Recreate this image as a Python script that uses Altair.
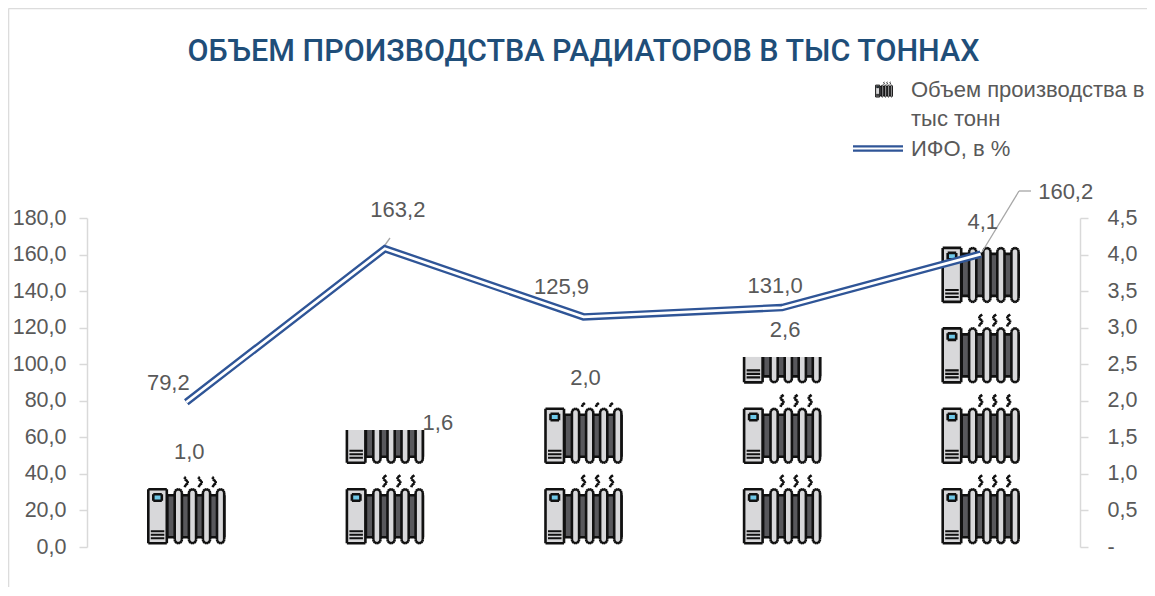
import math
import altair as alt
import pandas as pd

# ---- chart values -------------------------------------------------
categories = ["1", "2", "3", "4", "5"]
production = [0.96, 1.6, 1.97, 2.6, 4.1]      # тыс тонн (right axis)
ifo = [79.2, 163.2, 125.9, 131.0, 160.2]      # % (left axis)
units_per_icon = 1.1

# ---- label offsets (px) -------------------------------------------
prod_dx = [3, 53, 2, 3, 2]
prod_dy = [-25, -7, -25, -27, -25]
ifo_dx = [-18, 13, -22, -7, 85]
ifo_dy = [-19, -39, -30, -22, -62]

W, H = 993, 329
PAD_L, PAD_T = 79, 210
RIGHT_MAX = 4.5
LEFT_MAX = 180
PX_PER_UNIT = H / RIGHT_MAX

TXT = "#595959"
AX = "#d9d9d9"
BLUE = "#2f5597"
DARK = "#58585c"
LIGHT = "#d8d8da"
SCREEN = "#6fc8e8"
INK = "#111111"


def capsule(cx, hw, top, bot):
    pts = []
    for a in range(180, 361, 30):
        r = math.radians(a)
        pts.append((cx + hw * math.cos(r), top + hw + hw * math.sin(r)))
    for a in range(0, 181, 30):
        r = math.radians(a)
        pts.append((cx + hw * math.cos(r), bot - hw + hw * math.sin(r)))
    return pts


def box(x0, y0, x1, y1):
    return [(x0, y0), (x1, y0), (x1, y1), (x0, y1)]


def clip_poly(pts, c):
    out = []
    for i, p in enumerate(pts):
        q = pts[(i + 1) % len(pts)]
        if p[1] >= c:
            out.append(p)
        if (p[1] >= c) != (q[1] >= c):
            t = (c - p[1]) / (q[1] - p[1])
            out.append((p[0] + t * (q[0] - p[0]), c))
    return out


def clip_seg(pts, c, closed=True):
    segs = []
    n = len(pts) if closed else len(pts) - 1
    for i in range(n):
        p, q = pts[i], pts[(i + 1) % len(pts)]
        if p[1] < c and q[1] < c:
            continue
        if p[1] < c or q[1] < c:
            t = (c - p[1]) / (q[1] - p[1])
            m = (p[0] + t * (q[0] - p[0]), c)
            p, q = (m, q) if p[1] < c else (p, m)
        segs.append((p, q))
    return segs


def f(v):
    return f"{v:.2f}"


def fill_path(polys, c, s):
    d = ""
    for poly in polys:
        pts = clip_poly(poly, c)
        if len(pts) > 2:
            d += "M" + " L".join(f"{f(x*s)} {f(y*s)}" for x, y in pts) + " Z "
    return d.strip()


def line_path(polys, c, s, closed=True):
    d = ""
    for poly in polys:
        for p, q in clip_seg(poly, c, closed):
            d += f"M{f(p[0]*s)} {f(p[1]*s)} L{f(q[0]*s)} {f(q[1]*s)} "
    return d.strip()


FIN_X = [-8, 6.2, 20.2, 34.3]
WAVE_X = [0, 14, 28]
TOP, BOT = -17.6, 36.4


def wave(x):
    ys = [-31.5, -29.5, -27.5, -25.5, -23.5, -21.5, -19.5]
    xs = [1.5, -1.2, -1.5, 1.2, 1.5, -1.0, -1.5]
    return [(x + a, y) for a, y in zip(xs, ys)]


def icon_rows(c=-1e6, s=1.0, sw=2.6):
    rows = []

    def add(d, fill, stroke, w):
        if d:
            rows.append({"path": d, "fill": fill, "stroke": stroke, "sw": w})

    dark = [box(-19, TOP + 6, 38, BOT - 6)]
    fins = [capsule(x, 3.6, TOP, BOT) for x in FIN_X]
    panel = [box(-38, TOP, -19.5, BOT)]
    scr = [box(-33, TOP + 5, -24.5, TOP + 11.5)]
    vents = [[(-35.5, y), (-22, y)] for y in (BOT - 12, BOT - 8.5, BOT - 5)]
    waves = [wave(x) for x in WAVE_X]
    for polys, col in ((dark, DARK), (fins, LIGHT), (panel, LIGHT), (scr, SCREEN)):
        add(fill_path(polys, c, s), col, "transparent", 0)
        add(line_path(polys, c, s), "transparent", INK, sw)
    add(line_path(vents, c, s, False), "transparent", INK, sw * 0.8)
    add(line_path(waves, c, s, False), "transparent", INK, sw)
    return rows


# ---- build icon table from the values ------------------------------
icon_records = []
for cat, v in zip(categories, production):
    k = 0
    while k * units_per_icon < v:
        centre = (k + 0.5) * units_per_icon
        clip_px = (centre - v) * PX_PER_UNIT
        for j, r in enumerate(icon_rows(c=clip_px)):
            icon_records.append({"cat": cat, "pos": centre, **r})
        k += 1
icons_df = pd.DataFrame(icon_records)

base = pd.DataFrame({
    "cat": categories,
    "prod": production,
    "ifo": ifo,
    "prod_label": [f"{v:.1f}".replace(".", ",") for v in production],
    "ifo_label": [f"{v:.1f}".replace(".", ",") for v in ifo],
    "pdx": prod_dx, "pdy": prod_dy, "idx": ifo_dx, "idy": ifo_dy,
})

x_enc = alt.X("cat:N", sort=categories,
              scale=alt.Scale(type="point", padding=0.5, domain=categories), axis=None)


def yleft(field, axis=None):
    return alt.Y(field, scale=alt.Scale(domain=[0, LEFT_MAX], nice=False), axis=axis)


def yright(field, axis=None):
    return alt.Y(field, scale=alt.Scale(domain=[0, RIGHT_MAX], nice=False), axis=axis)


left_axis = alt.Axis(orient="left", values=list(range(0, 181, 20)), title=None, grid=False,
                     labelExpr="replace(format(datum.value,'.1f'),'.',',')",
                     labelFont="Liberation Sans", labelFontSize=21.5, labelColor=TXT, labelPadding=13,
                     tickColor=AX, domainColor=AX, tickSize=8, tickWidth=1.5, domainWidth=1.5)
right_axis = alt.Axis(orient="right", values=[i * 0.5 for i in range(10)], title=None, grid=False,
                      labelExpr="datum.value==0?'-':replace(format(datum.value,'.1f'),'.',',')",
                      labelFont="Liberation Sans", labelFontSize=21.5, labelColor=TXT, labelPadding=19,
                      tickColor=AX, domainColor=AX, tickSize=8, tickWidth=1.5, domainWidth=1.5)

icons = alt.Chart(icons_df).mark_point(filled=True, opacity=1).encode(
    x=x_enc,
    y=yright("pos:Q", right_axis),
    shape=alt.Shape("path:N", scale=None, legend=None),
    fill=alt.Fill("fill:N", scale=None, legend=None),
    stroke=alt.Stroke("stroke:N", scale=None, legend=None),
    strokeWidth=alt.StrokeWidth("sw:Q", scale=None, legend=None),
    size=alt.value(4),
)

line_out = alt.Chart(base).mark_line(color=BLUE, strokeWidth=7.5).encode(x=x_enc, y=yleft("ifo:Q", left_axis))
line_in = alt.Chart(base).mark_line(color="white", strokeWidth=2.8).encode(x=x_enc, y=yleft("ifo:Q"))

prod_text = alt.Chart(base).mark_text(font="Liberation Sans", fontSize=22, color=TXT,
                                      dx=alt.expr("datum.pdx"), dy=alt.expr("datum.pdy")).encode(
    x=x_enc, y=yright("prod:Q"), text="prod_label:N")
ifo_text = alt.Chart(base).mark_text(font="Liberation Sans", fontSize=22, color=TXT,
                                     dx=alt.expr("datum.idx"), dy=alt.expr("datum.idy")).encode(
    x=x_enc, y=yleft("ifo:Q"), text="ifo_label:N")

OX, OY = 87, 218   # page position of the plot's origin


def seg(x0, y0, x1, y1, color, w):
    return alt.Chart(pd.DataFrame({"a": [0]})).mark_rule(color=color, strokeWidth=w).encode(
        x=alt.value(x0 - OX), x2=alt.value(x1 - OX), y=alt.value(y0 - OY), y2=alt.value(y1 - OY))


def label(text, x, y, size, color, font="Liberation Sans", align="left", weight="normal"):
    return alt.Chart(pd.DataFrame({"t": [text]})).mark_text(
        font=font, fontSize=size, color=color, align=align, baseline="middle", fontWeight=weight).encode(
        x=alt.value(x - OX), y=alt.value(y - OY), text="t:N")


leaders = [
    seg(385, 245, 390, 238, "#a6a6a6", 1.3),
    seg(982, 252, 1019, 191, "#a6a6a6", 1.3),
    seg(1019, 191, 1031, 191, "#a6a6a6", 1.3),
]

frame = [
    seg(8.5, 8.5, 1147, 8.5, "#dcdcdc", 1.6),
    seg(8.5, 8.5, 8.5, 596, "#dcdcdc", 1.6),
]

title = label("ОБЪЕМ ПРОИЗВОДСТВА РАДИАТОРОВ В ТЫС ТОННАХ", 583.5, 52, 30.5, "#1f4e79",
              font="Roboto", align="center", weight=500)
leg_texts = [
    label("Объем производства в", 911, 90, 22, TXT),
    label("тыс тонн", 911, 119, 22, TXT),
    label("ИФО, в %", 911, 149, 22, TXT),
]
leg_line = [seg(853, 148.5, 903, 148.5, BLUE, 6.5), seg(853, 148.5, 903, 148.5, "white", 2.2)]

S = 0.22
leg_icon_rows = icon_rows(s=S, sw=1.0)
leg_icon = alt.Chart(pd.DataFrame(leg_icon_rows)).mark_point(filled=True, opacity=1).encode(
    x=alt.value(884 - OX), y=alt.value(89 - OY),
    shape=alt.Shape("path:N", scale=None, legend=None),
    fill=alt.Fill("fill:N", scale=None, legend=None),
    stroke=alt.Stroke("stroke:N", scale=None, legend=None),
    strokeWidth=alt.StrokeWidth("sw:Q", scale=None, legend=None),
    size=alt.value(4),
)

chart = alt.layer(
    *frame, icons, *leaders, line_out, line_in, prod_text, ifo_text,
    title, *leg_texts, *leg_line, leg_icon,
).resolve_scale(y="independent", shape="independent", fill="independent",
                stroke="independent", strokeWidth="independent").properties(
    width=W, height=H,
    padding={"left": PAD_L, "top": PAD_T, "right": 1139 - PAD_L - W, "bottom": 40},
    autosize=alt.AutoSizeParams(type="none"),
    background="white",
).configure_view(stroke=None)

chart.save("out.html", embed_options={"renderer": "svg", "actions": False})
